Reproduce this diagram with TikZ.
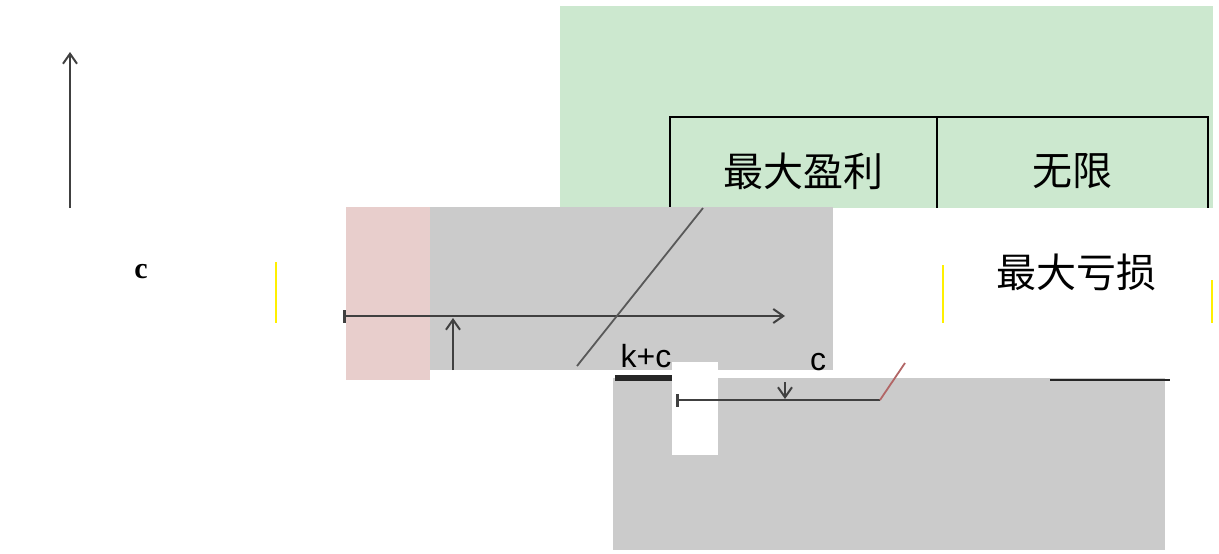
\documentclass[tikz,border=0pt]{standalone}
\usepackage{fontspec}
\setmainfont{Liberation Sans}
\newfontfamily\cjk{Noto Sans CJK SC}
\newfontfamily\serifc{Liberation Serif}
\usetikzlibrary{shapes, arrows, arrows.meta}
\definecolor{tablegreen}{RGB}{204,232,207}
\definecolor{shadegray}{RGB}{203,203,203}
\definecolor{shadepink}{RGB}{232,206,204}
\definecolor{cellyellow}{RGB}{255,240,0}

\begin{document}
\begin{tikzpicture}[x=1pt,y=-1pt, >={Straight Barb[length=10pt,width=14pt,line width=2pt]}]
            \tikzstyle{cell}=[rectangle, draw, line width=1.8pt, inner sep=0pt, minimum height=108pt, font=\cjk\fontsize{40}{46}\selectfont]
            \tikzstyle{label}=[inner sep=0pt, font=\fontsize{32}{36}\selectfont]
            \tikzstyle{axis}=[line width=2.5pt, black!75]
            \useasboundingbox (0,0) rectangle (1219,554);
            % shaded areas
            \fill[tablegreen] (560,6) rectangle (1213,208);
            \node[cell, minimum width=267pt] (profit) at (803.5,171) {最大盈利};
            \node[cell, minimum width=271pt] (unlimited) at (1072.5,171) {无限};
            \fill[shadepink] (346,207) rectangle (430,380);
            \fill[shadegray] (430,207) rectangle (833,370);
            \fill[white] (833,208) rectangle (1213,360);
            \fill[shadegray] (613,378) rectangle (1165,550);
            \fill[white] (672,362) rectangle (718,455);
            \draw[cellyellow, line width=2pt] (276,262) -- (276,323) (943,265) -- (943,323) (1212,280) -- (1212,323);
            % texts
            \node[label, font=\serifc\bfseries\fontsize{30}{34}\selectfont] (cost) at (141,272) {c};
            \node[label, font=\cjk\fontsize{40}{46}\selectfont] (loss) at (1076,272) {最大亏损};
            \node[label] (kc) at (646,356) {k+c};
            \node[label] (cost2) at (818,362) {c};
            \fill[black!85] (615,375) rectangle (672,381);
            % axes
            \coordinate (origin) at (70,208);
            \coordinate (ytop) at (70,52);
            \draw[axis, ->] (origin) -- (ytop);
            \coordinate (xleft) at (343,316);
            \coordinate (xright) at (785,316);
            \draw[axis, |->] (xleft) -- (xright);
            \coordinate (kfoot) at (453,370);
            \coordinate (khead) at (453,318);
            \draw[axis, ->, line width=2pt] (kfoot) -- (khead);
            % payoff lines
            \coordinate (pa) at (703,208);
            \coordinate (pb) at (577,366);
            \draw[black!65, line width=1.8pt] (pa) -- (pb);
            \coordinate (la) at (676,400);
            \coordinate (lb) at (880,400);
            \coordinate (lc) at (905,363);
            \draw[axis, |-] (la) -- (lb);
            \draw[red!50!black!60, line width=1.8pt] (lb) -- (lc);
            \coordinate (cfoot) at (785,382);
            \coordinate (chead) at (785,399);
            \draw[axis, ->, line width=2pt] (cfoot) -- (chead);
            \draw[black!85, line width=2pt] (1050,380) -- (1170,380);
\end{tikzpicture}
\end{document}
